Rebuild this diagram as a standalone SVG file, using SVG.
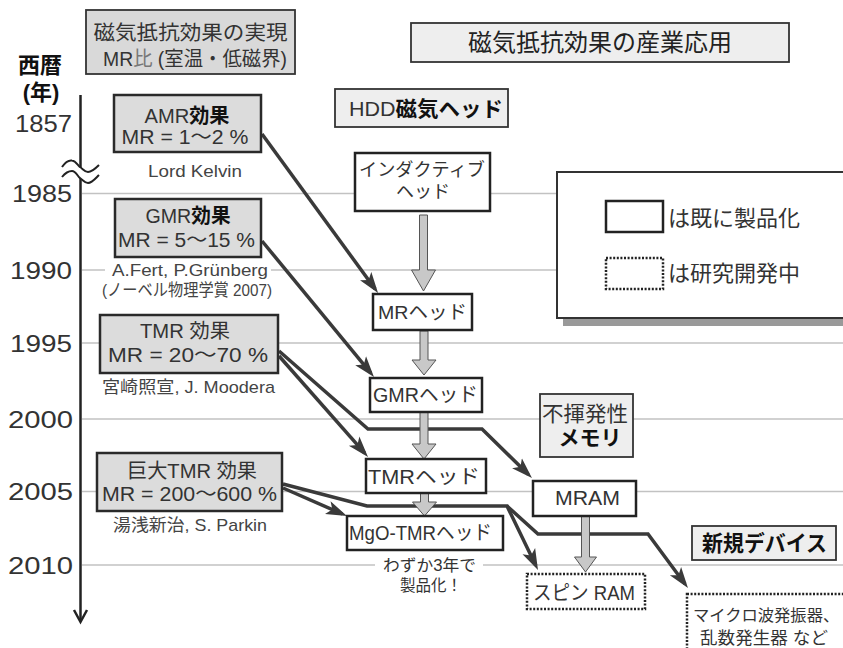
<svg xmlns="http://www.w3.org/2000/svg" width="843" height="648" viewBox="0 0 843 648">
<style>
text{font-family:"Liberation Sans","Noto Sans CJK JP",sans-serif;fill:#333}
.yr{font-size:24px}
.bt{font-size:20px;text-anchor:middle}
.cap{font-size:17px;text-anchor:middle;fill:#444}
.gbox{fill:#dcdcdc;stroke:#2a2a2a;stroke-width:2.5}
.lbox{fill:#eeeeee;stroke:#333;stroke-width:1.8}
.wbox{fill:#fff;stroke:#222;stroke-width:2.5}
.dbox{fill:#fff;stroke:#222;stroke-width:2.5;stroke-dasharray:2 1.6}
.grid{stroke:#c2c2c2;stroke-width:1.5}
.con{fill:none;stroke:#3a3a3a;stroke-width:3.5;stroke-linejoin:miter}
.blk{fill:#c8c8c8;stroke:#555;stroke-width:1}
.b{font-weight:bold}
</style>
<defs>
<marker id="ah" markerUnits="userSpaceOnUse" markerWidth="22" markerHeight="16" refX="16" refY="8" orient="auto" viewBox="0 0 22 16"><path d="M0,1 L21,8 L0,15 L5,8 z" fill="#3a3a3a"/></marker>
</defs>
<rect width="843" height="648" fill="#fff"/>

<g id="grid">
<line class="grid" x1="82" y1="193.5" x2="843" y2="193.5"/>
<line class="grid" x1="82" y1="270" x2="843" y2="270"/>
<line class="grid" x1="82" y1="343" x2="843" y2="343"/>
<line class="grid" x1="82" y1="419" x2="843" y2="419"/>
<line class="grid" x1="82" y1="491.5" x2="843" y2="491.5"/>
<line class="grid" x1="82" y1="565" x2="843" y2="565"/>
</g>

<g id="axis">
<line x1="80.5" y1="95" x2="80.5" y2="621" stroke="#222" stroke-width="2.5"/>
<polyline points="74,610 80.5,622 87,610" fill="none" stroke="#222" stroke-width="2.5"/>
<path d="M62,167 C66,161 69,160 72,160.5 C76,161 78,166 80,167 C83,169 85,172 88,172 C92,172 95,169 99,165 L99,175 C95,179 92,183 88,183 C85,183 83,180 80,178 C78,177 76,171 72,171 C69,171 66,172 62,177 Z" fill="#fff"/>
<path d="M62,167 C66,161 69,160 72,160.5 C76,161 78,166 80,167 C83,169 85,172 88,172 C92,172 95,169 99,165" fill="none" stroke="#222" stroke-width="2"/>
<path d="M62,177 C66,172 69,171 72,171 C76,171 78,177 80,178 C83,180 85,183 88,183 C92,183 95,179 99,175" fill="none" stroke="#222" stroke-width="2"/>
<text x="40" y="73" font-size="22" class="b" text-anchor="middle" style="fill:#111">西暦</text>
<text x="41" y="100" font-size="22" class="b" text-anchor="middle" style="fill:#111">(年)</text>
<text class="yr" x="15" y="132" textLength="57" lengthAdjust="spacingAndGlyphs">1857</text>
<text class="yr" x="12" y="202" textLength="60" lengthAdjust="spacingAndGlyphs">1985</text>
<text class="yr" x="10" y="278.5" textLength="62" lengthAdjust="spacingAndGlyphs">1990</text>
<text class="yr" x="10" y="351.5" textLength="62" lengthAdjust="spacingAndGlyphs">1995</text>
<text class="yr" x="8" y="427.5" textLength="65" lengthAdjust="spacingAndGlyphs">2000</text>
<text class="yr" x="8" y="500" textLength="65" lengthAdjust="spacingAndGlyphs">2005</text>
<text class="yr" x="8" y="573.5" textLength="65" lengthAdjust="spacingAndGlyphs">2010</text>
</g>

<g id="connectors">
<path class="con" d="M262,134 L375.1,289" marker-end="url(#ah)"/>
<path class="con" d="M262,241 L370.8,373.1" marker-end="url(#ah)"/>
<path class="con" d="M279,356 L364.7,453.2" marker-end="url(#ah)"/>
<path class="con" d="M279,351 L368,429 L482,429 L528.4,474.5" marker-end="url(#ah)"/>
<path class="con" d="M283,488 L342.4,514" marker-end="url(#ah)"/>
<path class="con" d="M283,484 L367,506 L507,506 L535.8,565.5" marker-end="url(#ah)"/>
<path class="con" d="M507,506 L538,534 L648,534 L685,584" marker-end="url(#ah)"/>
<polygon class="blk" points="419.5,215 427.5,215 427.5,270 435.5,270 423.5,291 411.5,270 419.5,270"/>
<polygon class="blk" points="420,331 428,331 428,360 436,360 424,375 412,360 420,360"/>
<polygon class="blk" points="420,412 428,412 428,444 436,444 424,459 412,444 420,444"/>
<polygon class="blk" points="420.5,493 428.5,493 428.5,502 436.5,502 424.5,516 412.5,502 420.5,502"/>
<polygon class="blk" points="581.5,516 589.5,516 589.5,557 596.5,557 585.5,572 574.5,557 581.5,557"/>
</g>

<g id="title-left">
<rect x="86" y="10" width="209" height="64" fill="#d9d9d9" stroke="#333" stroke-width="1.8"/>
<text x="190.5" y="39.5" font-size="20.5" text-anchor="middle" textLength="194" lengthAdjust="spacingAndGlyphs">磁気抵抗効果の実現</text>
<text x="195" y="66" font-size="20" text-anchor="middle" textLength="184" lengthAdjust="spacingAndGlyphs">MR<tspan style="fill:#777">比</tspan> (室温・低磁界)</text>
</g>

<g id="title-right">
<rect class="lbox" x="411" y="23" width="378" height="39"/>
<text x="600" y="51" font-size="24" text-anchor="middle" textLength="264" lengthAdjust="spacingAndGlyphs" style="fill:#222">磁気抵抗効果の産業応用</text>
</g>

<g id="amr">
<rect class="gbox" x="114" y="95" width="147" height="57"/>
<text class="bt" x="187" y="122.5" textLength="85" lengthAdjust="spacingAndGlyphs">AMR<tspan class="b" style="fill:#111">効果</tspan></text>
<text class="bt" x="185" y="144" textLength="127" lengthAdjust="spacingAndGlyphs">MR = 1〜2 %</text>
<text class="cap" x="195" y="176.5" textLength="94" lengthAdjust="spacingAndGlyphs">Lord Kelvin</text>
</g>

<g id="gmr">
<rect class="gbox" x="115" y="199" width="146" height="58"/>
<text class="bt" x="188" y="223" textLength="85" lengthAdjust="spacingAndGlyphs">GMR<tspan class="b" style="fill:#111">効果</tspan></text>
<text class="bt" x="186.5" y="247" textLength="137" lengthAdjust="spacingAndGlyphs">MR = 5〜15 %</text>
<rect x="105" y="260" width="166" height="20" fill="#fff"/>
<text class="cap" x="190" y="276" textLength="156" lengthAdjust="spacingAndGlyphs">A.Fert, P.Grünberg</text>
<text class="cap" x="187" y="296" textLength="170" lengthAdjust="spacingAndGlyphs">(ノーベル物理学賞 2007)</text>
</g>

<g id="tmr">
<rect class="gbox" x="100" y="315" width="178" height="58"/>
<text class="bt" x="185" y="338" textLength="90" lengthAdjust="spacingAndGlyphs">TMR 効果</text>
<text class="bt" x="188" y="362" textLength="160" lengthAdjust="spacingAndGlyphs">MR = 20〜70 %</text>
<text class="cap" x="188.5" y="393" textLength="173" lengthAdjust="spacingAndGlyphs">宮崎照宣, J. Moodera</text>
</g>

<g id="giant-tmr">
<rect class="gbox" x="97" y="453" width="185" height="58"/>
<text class="bt" x="192" y="478" textLength="130" lengthAdjust="spacingAndGlyphs">巨大TMR 効果</text>
<text class="bt" x="189.5" y="501" textLength="175" lengthAdjust="spacingAndGlyphs">MR = 200〜600 %</text>
<text class="cap" x="190" y="531" textLength="154" lengthAdjust="spacingAndGlyphs">湯浅新治, S. Parkin</text>
</g>

<g id="hdd">
<rect class="lbox" x="335" y="89" width="173" height="38"/>
<text x="426" y="116" font-size="21" text-anchor="middle" textLength="154" lengthAdjust="spacingAndGlyphs">HDD<tspan class="b" style="fill:#111">磁気ヘッド</tspan></text>
</g>

<g id="inductive">
<rect class="wbox" x="355" y="153" width="135" height="58"/>
<text x="422" y="176" font-size="18" text-anchor="middle" textLength="126" lengthAdjust="spacingAndGlyphs">インダクティブ</text>
<text x="423" y="198" font-size="18" text-anchor="middle">ヘッド</text>
</g>

<g id="mr-head">
<rect class="wbox" x="373" y="294" width="99" height="36"/>
<text x="422.5" y="319" font-size="19" text-anchor="middle" textLength="89" lengthAdjust="spacingAndGlyphs">MRヘッド</text>
</g>

<g id="gmr-head">
<rect class="wbox" x="370" y="378" width="112" height="34"/>
<text x="425.5" y="402" font-size="20" text-anchor="middle" textLength="105" lengthAdjust="spacingAndGlyphs">GMRヘッド</text>
</g>

<g id="tmr-head">
<rect class="wbox" x="366" y="459" width="120" height="34"/>
<text x="424" y="484" font-size="20" text-anchor="middle" textLength="112" lengthAdjust="spacingAndGlyphs">TMRヘッド</text>
</g>

<g id="mgo-head">
<rect class="wbox" x="347" y="516" width="156" height="34"/>
<text x="420.5" y="540" font-size="20" text-anchor="middle" textLength="143" lengthAdjust="spacingAndGlyphs">MgO-TMRヘッド</text>
<rect x="375" y="556" width="108" height="18" fill="#fff"/>
<text x="429.5" y="571" font-size="16" text-anchor="middle" textLength="93" lengthAdjust="spacingAndGlyphs">わずか3年で</text>
<text x="431" y="591" font-size="16" text-anchor="middle" textLength="62" lengthAdjust="spacingAndGlyphs">製品化！</text>
</g>

<g id="legend">
<rect x="563" y="180" width="300" height="146" fill="#999"/>
<rect x="557" y="172" width="300" height="146" fill="#fff" stroke="#333" stroke-width="2"/>
<rect x="606" y="201" width="57" height="31" fill="#fff" stroke="#222" stroke-width="2.5"/>
<text x="668" y="226" font-size="22" textLength="132" lengthAdjust="spacingAndGlyphs">は既に製品化</text>
<rect class="dbox" x="606" y="258" width="57" height="31"/>
<text x="668" y="281" font-size="22" textLength="132" lengthAdjust="spacingAndGlyphs">は研究開発中</text>
</g>

<g id="nonvolatile">
<rect class="lbox" x="540" y="394" width="93" height="63"/>
<text x="585" y="421" font-size="21" text-anchor="middle" textLength="86" lengthAdjust="spacingAndGlyphs">不揮発性</text>
<text x="590" y="445" font-size="21" text-anchor="middle" class="b" style="fill:#111">メモリ</text>
</g>

<g id="mram">
<rect class="wbox" x="533" y="481" width="103" height="35"/>
<text x="587.5" y="505" font-size="21" text-anchor="middle" textLength="65" lengthAdjust="spacingAndGlyphs">MRAM</text>
</g>

<g id="spin-ram">
<rect class="dbox" x="527" y="574" width="118" height="35"/>
<text x="584" y="600" font-size="20" text-anchor="middle" textLength="102" lengthAdjust="spacingAndGlyphs">スピン RAM</text>
</g>

<g id="new-device">
<rect class="lbox" x="692" y="526" width="144" height="34"/>
<text x="764.5" y="551" font-size="22" text-anchor="middle" class="b" textLength="125" lengthAdjust="spacingAndGlyphs" style="fill:#111">新規デバイス</text>
</g>

<g id="microwave">
<rect class="dbox" x="687" y="594" width="170" height="70"/>
<text x="693" y="621" font-size="16.3">マイクロ波発振器、</text>
<text x="700" y="644" font-size="17" textLength="128" lengthAdjust="spacingAndGlyphs">乱数発生器 など</text>
</g>
</svg>
